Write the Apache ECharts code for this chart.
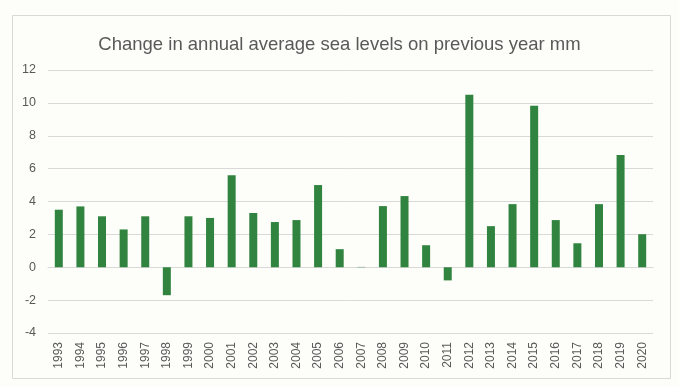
<!DOCTYPE html>
<html>
<head>
<meta charset="utf-8">
<script src="https://cdn.jsdelivr.net/npm/echarts@6/dist/echarts.min.js"></script>
<style>
html,body{margin:0;padding:0;background:#fdfdf9;}
#c{width:679px;height:387px;}
</style>
</head>
<body>
<div id="c"></div>
<script>
const years = ['1993','1994','1995','1996','1997','1998','1999','2000','2001','2002','2003','2004','2005','2006','2007','2008','2009','2010','2011','2012','2013','2014','2015','2016','2017','2018','2019','2020'];
const changeMm = [3.5,3.7,3.1,2.3,3.1,-1.7,3.1,3.0,5.6,3.3,2.75,2.87,5.0,1.1,0.02,3.72,4.33,1.34,-0.8,10.5,2.5,3.84,9.82,2.87,1.46,3.84,6.83,2.01];
const yTicks = {min:-4, max:12, interval:2};
const titleText = 'Change in annual average sea levels on previous year mm';

const chart = echarts.init(document.getElementById('c'), null, {renderer:'canvas'});
chart.setOption({
  backgroundColor:'#fdfdf9',
  animation:false,
  graphic:[{
    type:'rect', left:12, top:15, silent:true, z:-1,
    shape:{width:658, height:363},
    style:{fill:'#fdfdf9', stroke:'#d9d9d9', lineWidth:1}
  }],
  title:{
    text:titleText, left:'center', top:30,
    textStyle:{fontFamily:'Liberation Sans', fontSize:18.5, fontWeight:'normal', color:'#595959'}
  },
  grid:{left:48, right:26, top:70, bottom:54, containLabel:false},
  xAxis:{
    type:'category', data:years,
    axisLine:{onZero:true, lineStyle:{color:'#d9d9d9', width:1}},
    axisTick:{show:false},
    axisLabel:{rotate:90, margin:9, fontFamily:'Liberation Sans', fontSize:12, color:'#595959', interval:0}
  },
  yAxis:{
    type:'value', min:yTicks.min, max:yTicks.max, interval:yTicks.interval,
    axisLine:{show:false}, axisTick:{show:false},
    axisLabel:{margin:12, fontFamily:'Liberation Sans', fontSize:12.5, color:'#595959'},
    splitLine:{lineStyle:{color:'#d9d9d9', width:1}}
  },
  series:[{
    type:'bar', data:changeMm, barWidth:8,
    itemStyle:{color:'#31843f'}
  }]
});
</script>
</body>
</html>
